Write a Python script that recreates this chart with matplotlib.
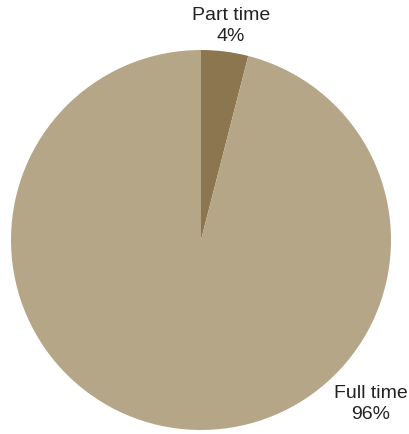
import matplotlib
matplotlib.use('Agg')
import matplotlib.pyplot as plt

categories = ['Part time', 'Full time']
shares = [4, 96]
colors = ['#8b7650', '#b5a688']

plt.rcParams['font.family'] = ['Liberation Sans', 'DejaVu Sans']

fig = plt.figure(figsize=(4.09, 4.35), dpi=100)
ax = fig.add_axes([11 / 409, 4 / 435, 380 / 409, 380 / 435])

wedges, _ = ax.pie(shares, colors=colors, startangle=90, counterclock=False,
                   radius=1, wedgeprops={'linewidth': 0})
ax.set_xlim(-1, 1)
ax.set_ylim(-1, 1)
ax.set_aspect('equal')
ax.axis('off')

# label positions outside the wedges
label_pos = [(0.158, 1.13), (0.895, -0.86)]
for name, val, (x, y) in zip(categories, shares, label_pos):
    ax.text(x, y, f'{name}\n{val}%', ha='center', va='center', fontsize=14,
            color='#222222', linespacing=1.3, clip_on=False)

fig.savefig('out.png', dpi=100)
